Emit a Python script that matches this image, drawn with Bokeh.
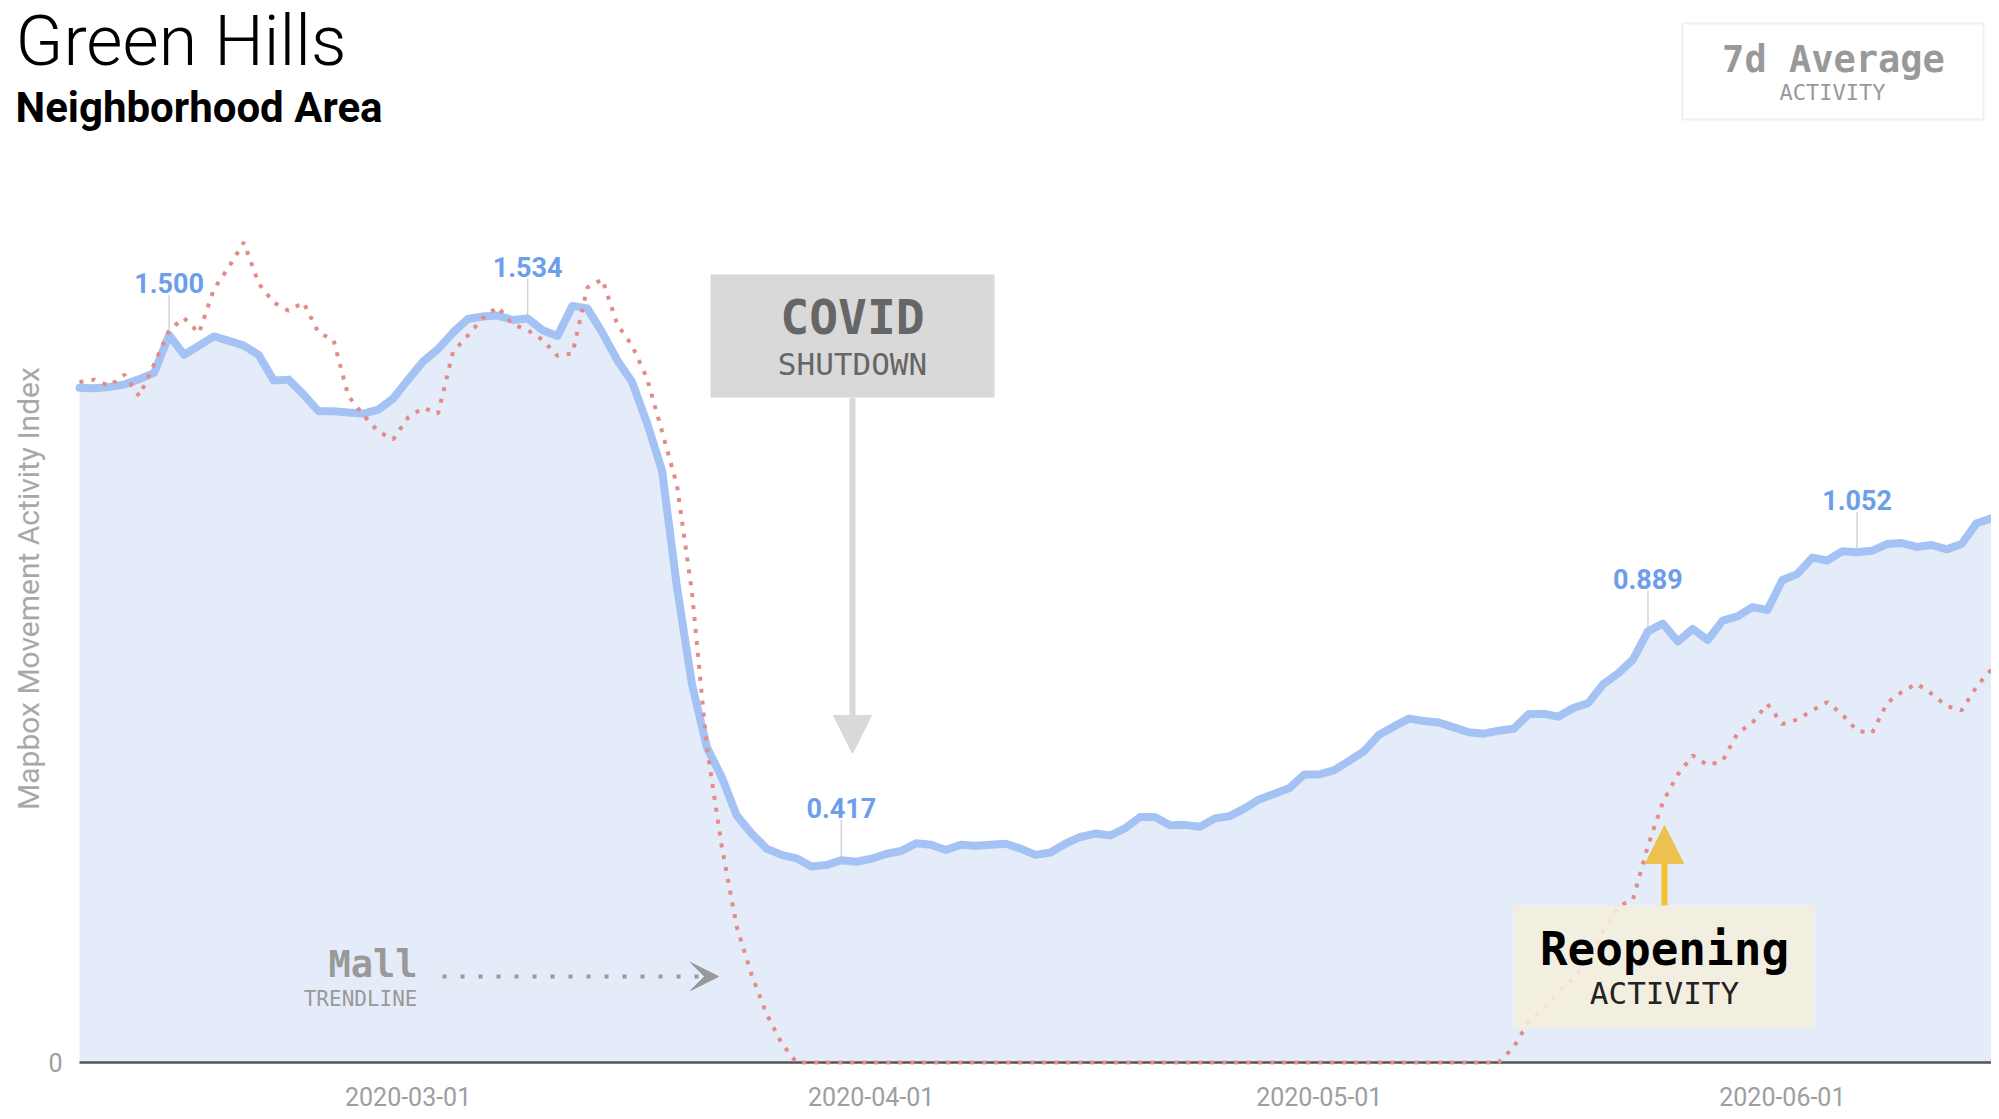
import numpy as np
import pandas as pd
from bokeh.plotting import figure
from bokeh.models import (ColumnDataSource, Range1d, FixedTicker, DatetimeTickFormatter,
                          Label, BoxAnnotation, Arrow, NormalHead, VeeHead)
from bokeh.core.properties import value
from bokeh.embed import file_html
from bokeh.resources import INLINE

# ---------------- data ----------------
start_date = "2020-02-08"
end_date = "2020-06-15"

area_index = [
    1.391, 1.390, 1.393, 1.398, 1.409, 1.422, 1.500, 1.459, 1.478, 1.497,
    1.488, 1.478, 1.459, 1.406, 1.408, 1.377, 1.343, 1.343, 1.340, 1.338,
    1.346, 1.369, 1.408, 1.445, 1.471, 1.505, 1.533, 1.538, 1.540, 1.531,
    1.534, 1.510, 1.498, 1.560, 1.555, 1.505, 1.448, 1.403, 1.318, 1.220,
    0.980, 0.780, 0.650, 0.588, 0.509, 0.472, 0.441, 0.428, 0.421, 0.404,
    0.407, 0.417, 0.414, 0.420, 0.430, 0.436, 0.452, 0.449, 0.438, 0.449,
    0.447, 0.449, 0.451, 0.441, 0.428, 0.433, 0.451, 0.465, 0.472, 0.468,
    0.483, 0.506, 0.506, 0.489, 0.490, 0.486, 0.503, 0.508, 0.524, 0.543,
    0.554, 0.566, 0.594, 0.594, 0.603, 0.622, 0.642, 0.676, 0.693, 0.709,
    0.704, 0.701, 0.691, 0.681, 0.678, 0.684, 0.688, 0.718, 0.719, 0.713,
    0.731, 0.741, 0.780, 0.802, 0.831, 0.889, 0.905, 0.868, 0.894, 0.871,
    0.911, 0.920, 0.939, 0.933, 0.995, 1.007, 1.041, 1.035, 1.054, 1.052,
    1.055, 1.069, 1.071, 1.063, 1.067, 1.058, 1.069, 1.112, 1.122,
]

mall_index = [
    1.403, 1.408, 1.395, 1.418, 1.374, 1.440, 1.510, 1.535, 1.504, 1.595,
    1.640, 1.691, 1.606, 1.567, 1.550, 1.567, 1.505, 1.490, 1.374, 1.335,
    1.301, 1.285, 1.330, 1.350, 1.338, 1.465, 1.499, 1.535, 1.558, 1.522,
    1.510, 1.490, 1.457, 1.462, 1.598, 1.615, 1.522, 1.478, 1.410, 1.301,
    1.190, 0.970, 0.650, 0.445, 0.280, 0.180, 0.100, 0.040, 0.000, 0.000,
    0.000, 0.000, 0.000, 0.000, 0.000, 0.000, 0.000, 0.000, 0.000, 0.000,
    0.000, 0.000, 0.000, 0.000, 0.000, 0.000, 0.000, 0.000, 0.000, 0.000,
    0.000, 0.000, 0.000, 0.000, 0.000, 0.000, 0.000, 0.000, 0.000, 0.000,
    0.000, 0.000, 0.000, 0.000, 0.000, 0.000, 0.000, 0.000, 0.000, 0.000,
    0.000, 0.000, 0.000, 0.000, 0.000, 0.000, 0.031, 0.083, 0.110, 0.147,
    0.172, 0.209, 0.271, 0.322, 0.336, 0.447, 0.537, 0.594, 0.633, 0.613,
    0.622, 0.679, 0.701, 0.739, 0.698, 0.707, 0.726, 0.743, 0.718, 0.684,
    0.679, 0.741, 0.764, 0.781, 0.760, 0.735, 0.726, 0.775, 0.811,
]

callout_dates = ["2020-02-14", "2020-03-09", "2020-03-30", "2020-05-23", "2020-06-06"]
callout_values = [1.500, 1.534, 0.417, 0.889, 1.052]

tick_dates = ["2020-03-01", "2020-04-01", "2020-05-01", "2020-06-01"]
y_tick_label = "0"

# ---------------- geometry ----------------
dates = pd.date_range(start_date, end_date, freq="D")
FRAME_W = 1991
FRAME_H = 1075
PLOT_LEFT = 79          # where the data begins inside the frame (px)
ZERO_PX = 13            # height of y=0 above frame bottom (px)
PX_PER_UNIT = 485.0
px_per_day = (FRAME_W - PLOT_LEFT) / (len(dates) - 1)
x_start = dates[0] - pd.Timedelta(days=PLOT_LEFT / px_per_day)
x_end = dates[-1]

src = ColumnDataSource(dict(date=dates, area=area_index, mall=mall_index))
csrc = ColumnDataSource(dict(date=pd.to_datetime(callout_dates), val=callout_values,
                             txt=[f"{v:.3f}" for v in callout_values]))
base_src = ColumnDataSource(dict(date=[dates[0], dates[-1]], zero=[0, 0]))

p = figure(x_axis_type="datetime", y_axis_location=None,
           output_backend="svg", toolbar_location=None,
           frame_width=FRAME_W, frame_height=FRAME_H,
           min_border_left=0, min_border_right=0, min_border_top=0, min_border_bottom=42,
           x_range=Range1d(x_start.to_pydatetime(), x_end.to_pydatetime()),
           y_range=Range1d(-ZERO_PX / PX_PER_UNIT, (FRAME_H - ZERO_PX) / PX_PER_UNIT))
p.outline_line_color = None
p.grid.visible = False
p.background_fill_color = "white"
p.border_fill_color = "white"

# x axis (tick labels only; baseline drawn at y = 0)
p.xaxis.ticker = FixedTicker(ticks=[pd.Timestamp(t).value // 10**6 for t in tick_dates])
fmt = "%Y-%m-%d"
p.xaxis.formatter = DatetimeTickFormatter(milliseconds=fmt, seconds=fmt, minsec=fmt, minutes=fmt,
                                          hourmin=fmt, hours=fmt, days=fmt, months=fmt, years=fmt)
p.xaxis.axis_line_color = None
p.xaxis.major_tick_line_color = None
p.xaxis.minor_tick_line_color = None
p.xaxis.major_tick_out = 0
p.xaxis.major_tick_in = 0
p.xaxis.major_label_standoff = 11
p.xaxis.major_label_text_font = "Roboto"
p.xaxis.major_label_text_font_size = "25px"
p.xaxis.major_label_text_color = "#9e9e9e"

# data marks
p.varea(x="date", y1=0, y2="area", source=src, fill_color="#e5ecf9")
p.line(x="date", y="zero", source=base_src, line_color="#555555", line_width=2.5)
p.ray(x="date", y="val", source=csrc, length=40, length_units="screen", angle=np.pi / 2,
      line_color="#d4d4d4", line_width=1.5)
p.line(x="date", y="area", source=src, line_color="#a4c2f4", line_width=8,
       line_join="round", line_cap="round")
p.line(x="date", y="mall", source=src, line_color="#e38c87", line_width=4,
       line_dash="4 8")
p.text(x="date", y="val", text="txt", source=csrc, text_font=value("Roboto"),
       text_font_style="bold", text_font_size="27px", text_color="#6d9eeb",
       text_align="center", text_baseline="middle", y_offset=-52)

# ---------------- annotations (screen px from frame bottom-left) ----------------
MONO = "DejaVu Sans Mono"

def lab(x, y, text, size, color, font="Roboto", style="normal", align="center",
        baseline="alphabetic", angle=0.0):
    p.add_layout(Label(x=x, y=y, x_units="screen", y_units="screen", text=text,
                       text_font=font, text_font_size=f"{size}px", text_font_style=style,
                       text_color=color, text_align=align, text_baseline=baseline,
                       angle=angle))

def box(l, r, t, b, **kw):
    p.add_layout(BoxAnnotation(left=l, right=r, top=t, bottom=b,
                               left_units="screen", right_units="screen",
                               top_units="screen", bottom_units="screen", **kw))

# titles and y-axis texts
lab(15, 1035, "Green Hills", 70, "#000000", font="Roboto Light, Roboto", align="left")
lab(15, 968, "Neighborhood Area", 42, "#000000", style="bold", align="left")
lab(28, 487, "Mapbox Movement Activity Index", 30, "#a8a8a8", angle=np.pi / 2,
    baseline="middle")
lab(62, ZERO_PX, y_tick_label, 25, "#9e9e9e", align="right", baseline="middle")

# 7d average box
box(1682, 1983, 1052, 956, fill_color=None, fill_alpha=0, line_color="#cccccc", line_width=2)
lab(1833, 1016, "7d Average", 37, "#999999", font=MONO, style="bold")
lab(1832, 983, "ACTIVITY", 22, "#999999", font=MONO)

# COVID shutdown box + arrow
box(710, 994, 801, 678, fill_color="#d9d9d9", fill_alpha=1, line_color=None)
lab(852, 759, "COVID", 48, "#666666", font=MONO, style="bold")
lab(852, 712, "SHUTDOWN", 31, "#666666", font=MONO)
p.add_layout(Arrow(x_start=852, y_start=678, x_end=852, y_end=322,
                   start_units="screen", end_units="screen",
                   line_color="#d9d9d9", line_width=6,
                   end=NormalHead(size=38, fill_color="#d9d9d9", line_color="#d9d9d9")))

# Mall trendline note + dotted arrow
lab(417, 111, "Mall", 37, "#999999", font=MONO, style="bold", align="right")
lab(417, 77, "TRENDLINE", 21, "#999999", font=MONO, align="right")
p.add_layout(Arrow(x_start=442, y_start=99, x_end=718, y_end=99,
                   start_units="screen", end_units="screen",
                   line_color="#999999", line_width=4, line_dash="4 14",
                   end=VeeHead(size=28, fill_color="#999999", line_color="#999999")))

# Reopening box + arrow
box(1513, 1814, 170, 48, fill_color="#f6f0dc", fill_alpha=0.85, line_color=None)
lab(1664, 127, "Reopening", 46, "#000000", font=MONO, style="bold")
lab(1664, 83, "ACTIVITY", 31, "#222222", font=MONO)
p.add_layout(Arrow(x_start=1664, y_start=170, x_end=1664, y_end=250,
                   start_units="screen", end_units="screen",
                   line_color="#f1c232", line_width=6,
                   end=NormalHead(size=38, fill_color="#ecc14f", line_color="#ecc14f")))

open("out.html", "w").write(file_html(p, INLINE))
